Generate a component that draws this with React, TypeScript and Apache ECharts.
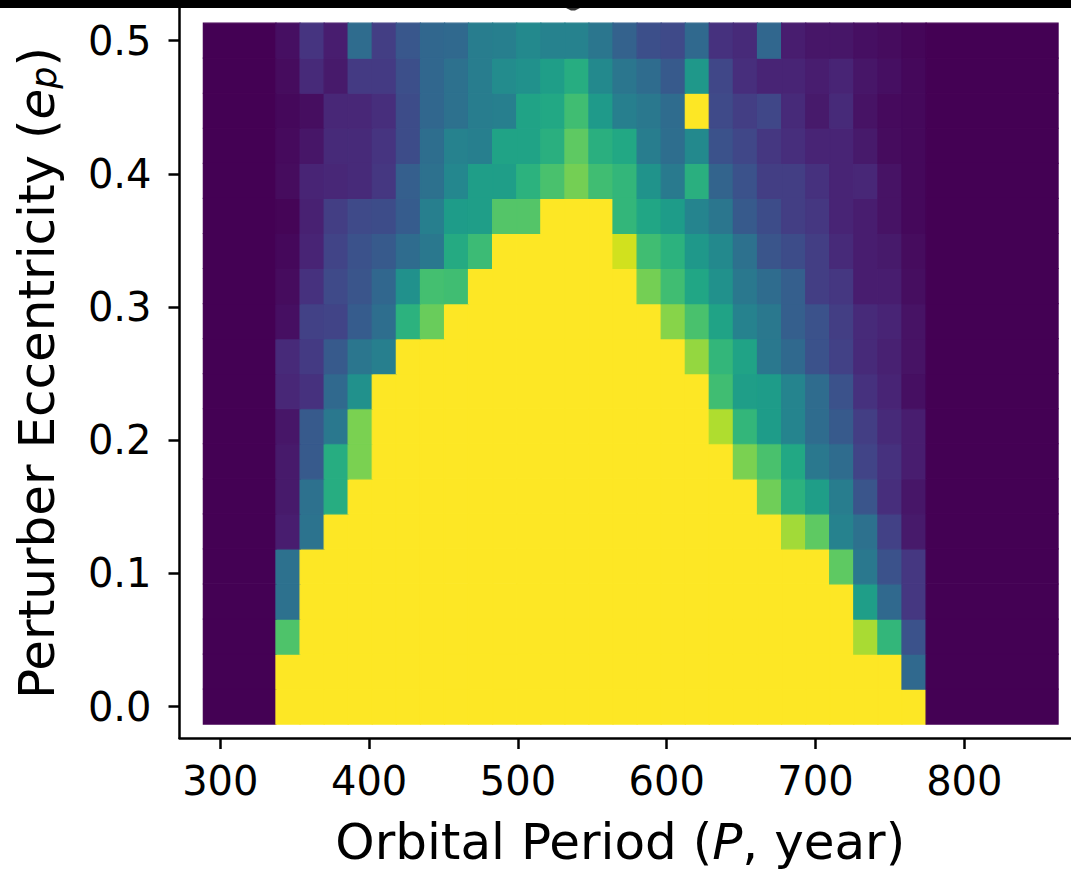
import React, { useEffect, useRef } from "react";
import * as echarts from "echarts";

// Period bin edges (years): left padding bin, 27 simulated columns, right padding bin
const periodBinEdges = [
  288.6, 337.4, 353.6, 369.8, 385.9, 402.1, 418.3, 434.5, 450.7, 466.8, 483.0,
  499.2, 515.4, 531.6, 547.7, 563.9, 580.1, 596.3, 612.5, 628.6, 644.8, 661.0,
  677.2, 693.4, 709.5, 725.7, 741.9, 758.1, 774.3, 863.0,
];

// Perturber eccentricity grid (row centres)
const eccentricities = [
  0, 0.0263, 0.0526, 0.0789, 0.1053, 0.1316, 0.1579, 0.1842, 0.2105, 0.2368,
  0.2632, 0.2895, 0.3158, 0.3421, 0.3684, 0.3947, 0.4211, 0.4474, 0.4737, 0.5,
];

const xTicks = [300, 400, 500, 600, 700, 800];
const yTicks = [0, 0.1, 0.2, 0.3, 0.4, 0.5];

// Normalised values per eccentricity row (bottom to top), one value per period bin (29 bins)
const row00 = [0, 1, 1, 1, 1, 1, 1, 1, 1, 1, 1, 1, 1, 1, 1, 1, 1, 1, 1, 1, 1, 1, 1, 1, 1, 1, 1, 1, 0];
const row01 = [0, 1, 1, 1, 1, 1, 1, 1, 1, 1, 1, 1, 1, 1, 1, 1, 1, 1, 1, 1, 1, 1, 1, 1, 1, 1, 1, 0.34, 0];
const row02 = [0, 0.72, 1, 1, 1, 1, 1, 1, 1, 1, 1, 1, 1, 1, 1, 1, 1, 1, 1, 1, 1, 1, 1, 1, 1, 0.87, 0.66, 0.25, 0];
const row03 = [0, 0.37, 1, 1, 1, 1, 1, 1, 1, 1, 1, 1, 1, 1, 1, 1, 1, 1, 1, 1, 1, 1, 1, 1, 1, 0.56, 0.34, 0.16, 0];
const row04 = [0, 0.37, 1, 1, 1, 1, 1, 1, 1, 1, 1, 1, 1, 1, 1, 1, 1, 1, 1, 1, 1, 1, 1, 1, 0.75, 0.4, 0.25, 0.16, 0];
const row05 = [0, 0.08, 0.38, 1, 1, 1, 1, 1, 1, 1, 1, 1, 1, 1, 1, 1, 1, 1, 1, 1, 1, 1, 0.86, 0.75, 0.44, 0.37, 0.19, 0.07, 0];
const row06 = [0, 0.07, 0.37, 0.62, 1, 1, 1, 1, 1, 1, 1, 1, 1, 1, 1, 1, 1, 1, 1, 1, 1, 0.78, 0.64, 0.56, 0.42, 0.26, 0.13, 0.06, 0];
const row07 = [0, 0.07, 0.28, 0.62, 0.8, 1, 1, 1, 1, 1, 1, 1, 1, 1, 1, 1, 1, 1, 1, 1, 0.8, 0.71, 0.6, 0.4, 0.35, 0.2, 0.14, 0.08, 0];
const row08 = [0, 0.06, 0.28, 0.4, 0.8, 1, 1, 1, 1, 1, 1, 1, 1, 1, 1, 1, 1, 1, 1, 0.88, 0.66, 0.55, 0.45, 0.35, 0.28, 0.18, 0.12, 0.08, 0];
const row09 = [0, 0.11, 0.14, 0.34, 0.5, 1, 1, 1, 1, 1, 1, 1, 1, 1, 1, 1, 1, 1, 1, 0.69, 0.56, 0.55, 0.45, 0.35, 0.25, 0.14, 0.1, 0.04, 0];
const row10 = [0, 0.12, 0.17, 0.28, 0.39, 0.43, 1, 1, 1, 1, 1, 1, 1, 1, 1, 1, 1, 1, 0.84, 0.66, 0.58, 0.4, 0.34, 0.25, 0.19, 0.12, 0.09, 0.05, 0];
const row11 = [0, 0.04, 0.19, 0.2, 0.29, 0.36, 0.64, 0.77, 1, 1, 1, 1, 1, 1, 1, 1, 1, 0.82, 0.71, 0.58, 0.44, 0.4, 0.3, 0.25, 0.18, 0.12, 0.1, 0.05, 0];
const row12 = [0, 0.03, 0.14, 0.22, 0.26, 0.33, 0.5, 0.7, 0.69, 1, 1, 1, 1, 1, 1, 1, 0.79, 0.69, 0.59, 0.5, 0.4, 0.35, 0.3, 0.18, 0.16, 0.08, 0.08, 0.035, 0];
const row13 = [0, 0.02, 0.1, 0.2, 0.25, 0.28, 0.35, 0.4, 0.61, 0.68, 1, 1, 1, 1, 1, 0.93, 0.69, 0.64, 0.53, 0.47, 0.37, 0.26, 0.23, 0.18, 0.12, 0.08, 0.07, 0.03, 0];
const row14 = [0, 0.01, 0.09, 0.18, 0.22, 0.23, 0.29, 0.43, 0.55, 0.56, 0.73, 0.73, 1, 1, 1, 0.66, 0.59, 0.55, 0.45, 0.39, 0.28, 0.23, 0.18, 0.16, 0.1, 0.08, 0.05, 0.02, 0];
const row15 = [0, 0.03, 0.1, 0.11, 0.12, 0.16, 0.3, 0.37, 0.46, 0.56, 0.56, 0.64, 0.71, 0.79, 0.69, 0.66, 0.51, 0.41, 0.63, 0.32, 0.25, 0.18, 0.18, 0.14, 0.1, 0.11, 0.05, 0.02, 0];
const row16 = [0, 0.025, 0.06, 0.12, 0.12, 0.15, 0.23, 0.36, 0.44, 0.43, 0.58, 0.58, 0.63, 0.75, 0.63, 0.6, 0.42, 0.36, 0.47, 0.25, 0.21, 0.16, 0.13, 0.1, 0.1, 0.07, 0.03, 0.02, 0];
const row17 = [0, 0.02, 0.035, 0.11, 0.11, 0.13, 0.23, 0.33, 0.37, 0.42, 0.43, 0.58, 0.6, 0.69, 0.54, 0.43, 0.4, 0.35, 1, 0.22, 0.18, 0.21, 0.12, 0.07, 0.12, 0.05, 0.025, 0.02, 0];
const row18 = [0, 0.03, 0.12, 0.07, 0.17, 0.17, 0.24, 0.33, 0.37, 0.42, 0.48, 0.5, 0.56, 0.62, 0.47, 0.39, 0.35, 0.28, 0.53, 0.21, 0.13, 0.1, 0.1, 0.08, 0.1, 0.06, 0.04, 0.02, 0];
const row19 = [0, 0.04, 0.15, 0.08, 0.35, 0.18, 0.27, 0.33, 0.34, 0.42, 0.43, 0.47, 0.44, 0.44, 0.39, 0.31, 0.24, 0.22, 0.34, 0.14, 0.12, 0.33, 0.08, 0.06, 0.06, 0.04, 0.03, 0.015, 0];

const stabilityRows = [
  row00, row01, row02, row03, row04, row05, row06, row07, row08, row09,
  row10, row11, row12, row13, row14, row15, row16, row17, row18, row19,
];

const viridis = [
  "#440154", "#471365", "#482475", "#463480", "#414487", "#3b528b", "#355f8d",
  "#2f6c8e", "#2a788e", "#25848e", "#21918c", "#1e9c89", "#22a884", "#2fb47c",
  "#44bf70", "#5ec962", "#7ad151", "#9bd93c", "#bddf26", "#dfe318", "#fde725",
];

const FONT = "DejaVu Sans";

export default function App() {
  const ref = useRef<HTMLDivElement>(null);

  useEffect(() => {
    if (!ref.current) return;
    const chart = echarts.init(ref.current, null, { renderer: "svg" });

    const halfStep = (eccentricities[1] - eccentricities[0]) / 2;
    const cells: number[][] = [];
    stabilityRows.forEach((row, i) => {
      row.forEach((v, j) => {
        if (j + 1 >= periodBinEdges.length) return;
        cells.push([
          periodBinEdges[j],
          periodBinEdges[j + 1],
          eccentricities[i] - halfStep,
          eccentricities[i] + halfStep,
          v,
        ]);
      });
    });

    chart.setOption({
      animation: false,
      backgroundColor: "#ffffff",
      grid: {
        left: 179.5,
        right: -10,
        top: 8,
        bottom: 135,
        containLabel: false,
        outerBoundsMode: "none",
      },
      xAxis: {
        type: "value",
        min: 272.58,
        max: 878.4,
        axisLine: { show: true, onZero: false, lineStyle: { color: "#000", width: 2.5 } },
        axisTick: {
          show: true,
          length: 11,
          customValues: xTicks,
          lineStyle: { color: "#000", width: 2.5 },
        },
        axisLabel: {
          customValues: xTicks,
          fontSize: 40,
          fontFamily: FONT,
          color: "#000",
          margin: 23,
          formatter: (v: number) => String(Math.round(v)),
        },
        splitLine: { show: false },
        name: "{a|Orbital Period (}{i|P}{a|, year)}",
        nameLocation: "middle",
        nameGap: 79,
        nameTextStyle: {
          fontSize: 50,
          fontFamily: FONT,
          color: "#000",
          padding: [0, 20, 0, 0],
          rich: {
            a: { fontSize: 50, fontFamily: FONT, color: "#000", lineHeight: 50 },
            i: { fontSize: 50, fontFamily: FONT, fontStyle: "italic", color: "#000", lineHeight: 50 },
          },
        },
      },
      yAxis: {
        type: "value",
        min: -0.023577,
        max: 0.52455,
        axisLine: { show: true, onZero: false, lineStyle: { color: "#000", width: 2.5 } },
        axisTick: {
          show: true,
          length: 11,
          customValues: yTicks,
          lineStyle: { color: "#000", width: 2.5 },
        },
        axisLabel: {
          customValues: yTicks,
          fontSize: 40,
          fontFamily: FONT,
          color: "#000",
          margin: 28,
          formatter: (v: number) => v.toFixed(1),
        },
        splitLine: { show: false },
        name: "{a|Perturber Eccentricity (}{i|e}{s|p}{a|)}",
        nameLocation: "middle",
        nameGap: 118,
        nameTextStyle: {
          fontSize: 50,
          fontFamily: FONT,
          color: "#000",
          rich: {
            a: { fontSize: 50, fontFamily: FONT, color: "#000", lineHeight: 50 },
            i: { fontSize: 50, fontFamily: FONT, fontStyle: "italic", color: "#000", lineHeight: 50 },
            s: {
              fontSize: 35,
              fontFamily: FONT,
              fontStyle: "italic",
              color: "#000",
              lineHeight: 24,
              verticalAlign: "bottom",
            },
          },
        },
      },
      visualMap: {
        type: "continuous",
        show: false,
        min: 0,
        max: 1,
        dimension: 4,
        seriesIndex: 0,
        inRange: { color: viridis },
      },
      series: [
        {
          type: "custom",
          silent: true,
          encode: { x: [0, 1], y: [2, 3] },
          data: cells,
          renderItem: (params: any, api: any) => {
            const p0 = api.coord([api.value(0), api.value(3)]);
            const p1 = api.coord([api.value(1), api.value(2)]);
            const color = api.visual("color");
            return {
              type: "rect",
              shape: { x: p0[0], y: p0[1], width: p1[0] - p0[0], height: p1[1] - p0[1] },
              style: { fill: color, stroke: color, lineWidth: 1.2 },
            };
          },
        },
      ],
      graphic: [
        {
          type: "rect",
          z: 100,
          shape: { x: 0, y: 0, width: 1071, height: 8 },
          style: { fill: "#000" },
        },
        {
          type: "polygon",
          z: 100,
          shape: { points: [[566, 8], [580, 8], [575, 10.5], [571, 10.5]] },
          style: { fill: "#333" },
        },
      ],
    });

    return () => chart.dispose();
  }, []);

  return (
    <div
      ref={ref}
      style={{ position: "fixed", left: 0, top: 0, width: 1071, height: 873 }}
    />
  );
}
